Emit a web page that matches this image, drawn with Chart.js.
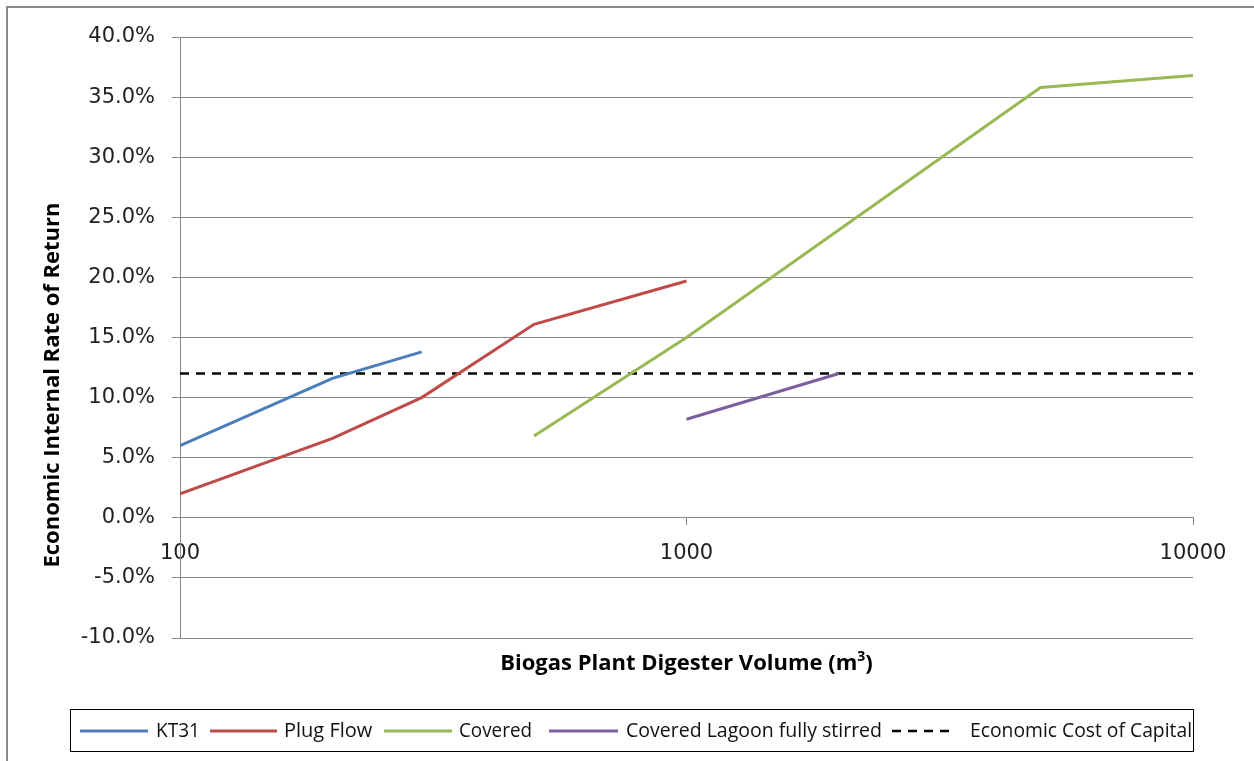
<!DOCTYPE html>
<html><head><meta charset="utf-8">
<script src="https://cdn.jsdelivr.net/npm/chart.js@4.4.1/dist/chart.umd.min.js"></script>
<style>
html,body{margin:0;padding:0;background:#fff;}
#wrap{position:relative;width:1254px;height:761px;overflow:hidden;}
#frame{position:absolute;left:6px;top:6px;width:1300px;height:800px;border-left:2px solid #8a8a8a;border-top:2px solid #8a8a8a;}
canvas{position:absolute;left:0;top:0;}
</style></head><body>
<div id="wrap"><div id="frame"></div><canvas id="c" width="1254" height="761"></canvas></div>
<script>
// ---- data ----
const seriesLabels = ['KT31', 'Plug Flow', 'Covered', 'Covered Lagoon fully stirred', 'Economic Cost of Capital'];
const kt31Volume = [100, 200, 300];
const kt31Eirr = [6.0, 11.6, 13.8];
const plugVolume = [100, 200, 300, 500, 1000];
const plugEirr = [2.0, 6.6, 10.0, 16.1, 19.7];
const coveredVolume = [500, 1000, 5000, 10000];
const coveredEirr = [6.8, 15.0, 35.8, 36.8];
const lagoonVolume = [1000, 2000];
const lagoonEirr = [8.2, 12.0];
const costVolume = [100, 10000];
const costEirr = [12.0, 12.0];
const xTickLabels = [100, 1000, 10000];
const yMin = -10, yMax = 40, yStep = 5;

const pts = (xs, ys) => xs.map((x, i) => ({x: x, y: ys[i]}));
const colors = ['#4a7ebb', '#be4b48', '#98b954', '#7d5fa0', '#000000'];
const dashes = [[], [], [], [], [9, 7]];
const widths = [3, 3, 3, 3, 2.5];
const seriesData = [
  pts(kt31Volume, kt31Eirr),
  pts(plugVolume, plugEirr),
  pts(coveredVolume, coveredEirr),
  pts(lagoonVolume, lagoonEirr),
  pts(costVolume, costEirr)
];

const GRID = '#8a8a8a';
const TICKFONT = {family: 'DejaVu Sans', size: 21};

const legendLayout = [
  {sx: 80, ex: 148, tx: 156, tw: 44},
  {sx: 210, ex: 277, tx: 284, tw: 90},
  {sx: 384, ex: 452, tx: 459, tw: 73},
  {sx: 549, ex: 618, tx: 626, tw: 256},
  {sx: 892, ex: 952, tx: 970, tw: 222}
];

const decor = {
  id: 'decor',
  afterDraw(chart) {
    const ctx = chart.ctx;
    const area = chart.chartArea;
    ctx.save();
    // Y title
    ctx.fillStyle = '#000';
    ctx.font = 'bold 22px "Open Sans"';
    ctx.textAlign = 'center';
    ctx.textBaseline = 'middle';
    ctx.translate(53, 385);
    ctx.rotate(-Math.PI / 2);
    ctx.fillText('Economic Internal Rate of Return', 0, 0, 368);
    ctx.restore();

    // X title with superscript
    ctx.save();
    ctx.fillStyle = '#000';
    ctx.textBaseline = 'alphabetic';
    ctx.textAlign = 'left';
    const main = 'Biogas Plant Digester Volume (m';
    ctx.font = 'bold 22px "Open Sans"';
    const w1 = ctx.measureText(main).width;
    const wp = ctx.measureText(')').width;
    ctx.font = 'bold 14px "Open Sans"';
    const ws = ctx.measureText('3').width;
    const total = w1 + ws + wp;
    const cx = (area.left + area.right) / 2;
    let x = cx - total / 2;
    const base = 670;
    ctx.font = 'bold 22px "Open Sans"';
    ctx.fillText(main, x, base);
    x += w1;
    ctx.font = 'bold 14px "Open Sans"';
    ctx.fillText('3', x, base - 9);
    x += ws;
    ctx.font = 'bold 22px "Open Sans"';
    ctx.fillText(')', x, base);
    ctx.restore();

    // Legend
    ctx.save();
    ctx.strokeStyle = '#000';
    ctx.lineWidth = 1;
    ctx.strokeRect(70.5, 709.5, 1123, 42);
    ctx.font = '20px "Open Sans"';
    ctx.textBaseline = 'middle';
    ctx.textAlign = 'left';
    chart.data.datasets.forEach((ds, i) => {
      const L = legendLayout[i];
      ctx.beginPath();
      ctx.strokeStyle = ds.borderColor;
      ctx.lineWidth = ds.borderWidth;
      ctx.setLineDash(ds.borderDash || []);
      ctx.moveTo(L.sx, 731);
      ctx.lineTo(L.ex, 731);
      ctx.stroke();
      ctx.setLineDash([]);
      ctx.fillStyle = '#111';
      ctx.fillText(ds.label, L.tx, 731, L.tw);
    });
    ctx.restore();
  }
};

new Chart(document.getElementById('c'), {
  type: 'line',
  data: {
    datasets: seriesData.map((d, i) => ({
      label: seriesLabels[i],
      data: d,
      borderColor: colors[i],
      backgroundColor: colors[i],
      borderWidth: widths[i],
      borderDash: dashes[i],
      pointRadius: 0,
      pointHoverRadius: 0,
      tension: 0,
      fill: false
    }))
  },
  options: {
    responsive: false,
    animation: false,
    events: [],
    layout: {padding: {left: 0, top: 37, right: 61, bottom: 123}},
    plugins: {legend: {display: false}, title: {display: false}, tooltip: {enabled: false}},
    scales: {
      x: {
        type: 'logarithmic',
        min: 100,
        max: 10000,
        position: {y: 0},
        afterFit: s => { s.height = 0; },
        grid: {drawOnChartArea: false, drawTicks: true, tickLength: 7, color: GRID},
        border: {display: true, color: GRID, width: 1},
        ticks: {
          autoSkip: false,
          maxRotation: 0,
          padding: 16,
          color: '#222',
          font: TICKFONT,
          callback: v => {
            const t = xTickLabels.find(k => Math.abs(k - v) < 1e-6);
            return t === undefined ? null : String(t);
          }
        }
      },
      y: {
        type: 'linear',
        min: yMin,
        max: yMax,
        afterFit: s => { s.width = 180; },
        grid: {color: GRID, lineWidth: 1, tickLength: 8},
        border: {display: true, color: GRID, width: 1},
        ticks: {
          stepSize: yStep,
          padding: 17,
          color: '#222',
          font: TICKFONT,
          callback: v => v.toFixed(1) + '%'
        }
      }
    }
  },
  plugins: [decor]
});
</script>
</body></html>
